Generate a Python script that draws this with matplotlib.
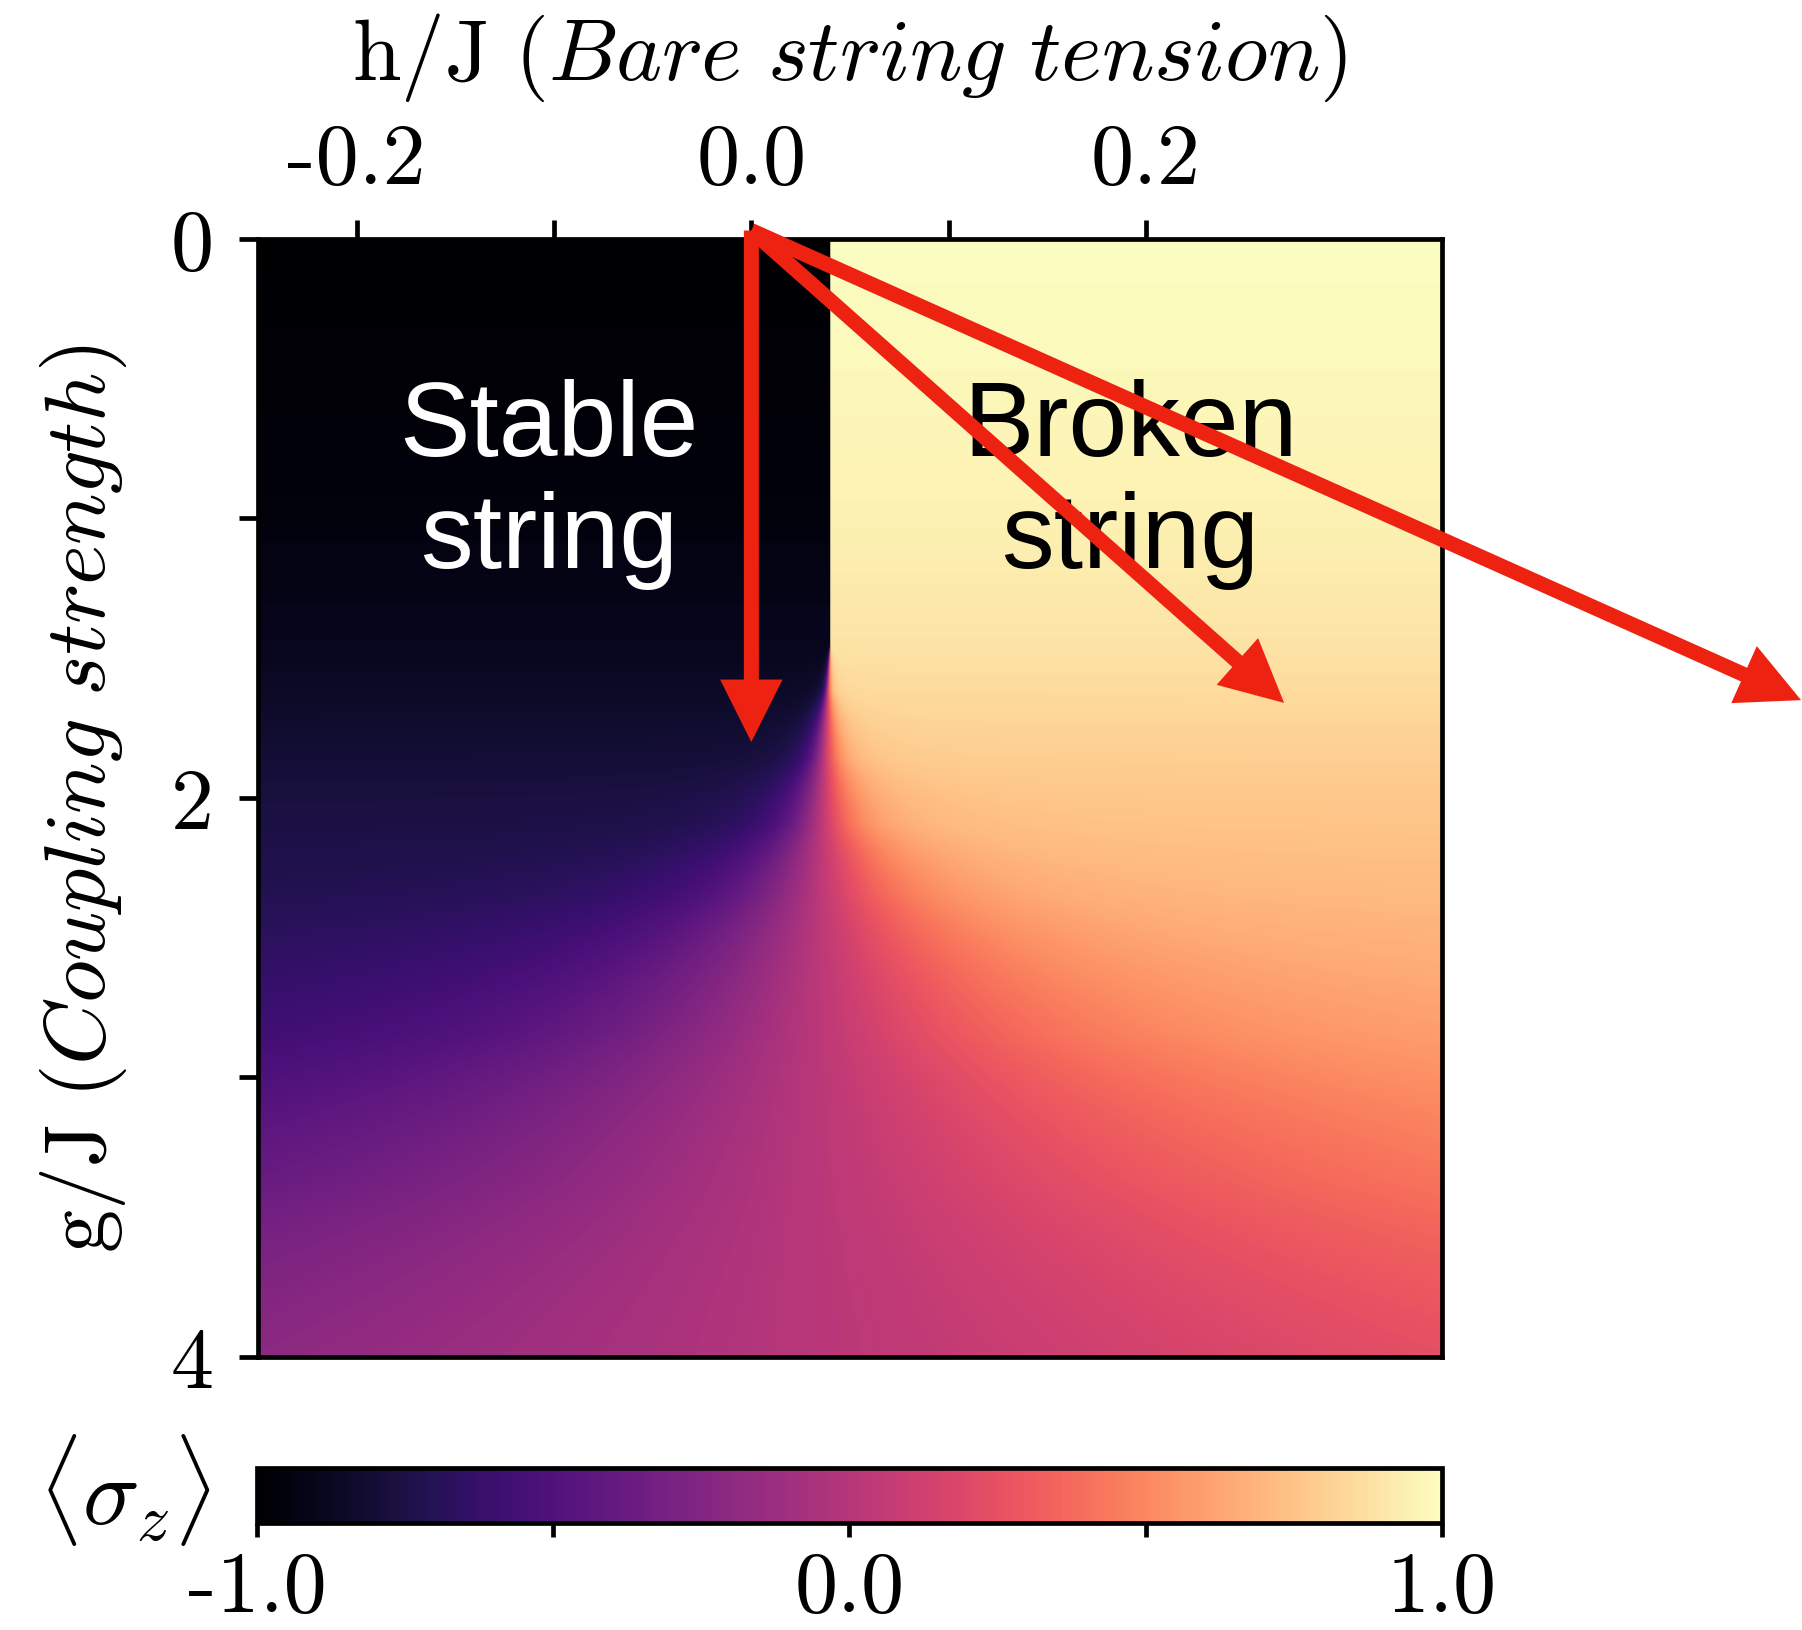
import matplotlib
matplotlib.use('Agg')
import matplotlib.pyplot as plt
import numpy as np

plt.rcParams['font.family'] = 'serif'
plt.rcParams['font.serif'] = ['cmr10']
plt.rcParams['mathtext.fontset'] = 'cm'
plt.rcParams['axes.unicode_minus'] = False

# phase diagram range
h_min, h_max = -0.25, 0.35
g_min, g_max = 0.0, 4.0

# <sigma_z> read along the edges of the map
h_step = 0.04          # position of the jump at weak coupling
g_tip = 1.45           # coupling where the jump starts to smear out
g_env = [0.0, 1.0, 1.5, 2.0, 3.0, 4.0]
amp_env = [1.0, 0.95, 0.88, 0.77, 0.64, 0.52]
# opening of the crossover fan below the tip
dg_fan = [0.0, 0.17, 0.41, 0.65, 0.9, 1.4, 1.92, 2.55]
w_fan = [0.0, 0.002, 0.01, 0.025, 0.06, 0.16, 0.33, 0.64]
shift_fan = [0.0, -0.022]

# arrow end points (h/J, g/J), all start at the origin
arrow_h = [0.0, 0.27, 0.532]
arrow_g = [1.80, 1.66, 1.65]

x_ticks = [-0.2, -0.1, 0.0, 0.1, 0.2]
x_ticklabels = ['-0.2', '', '0.0', '', '0.2']
y_ticks = [0, 1, 2, 3, 4]
y_ticklabels = ['0', '', '2', '', '4']
cb_ticks = [-1.0, -0.5, 0.0, 0.5, 1.0]
cb_ticklabels = ['-1.0', '', '0.0', '', '1.0']

h_grid = np.linspace(h_min, h_max, 1200)
g_grid = np.linspace(g_min, g_max, 900)
H, G = np.meshgrid(h_grid, g_grid)
amp = np.interp(G, g_env, amp_env)
dg = np.clip(G - g_tip, 0, None)
width = np.interp(dg, dg_fan, w_fan)
h0 = h_step + np.interp(dg, [0.0, dg_fan[-1]], shift_fan)
dh = H - h0
sz = amp * dh / np.sqrt(dh**2 + width**2 + 1e-12)

fig = plt.figure(figsize=(18.02, 16.31), dpi=100)
ax = fig.add_axes([0.1432, 0.1674, 0.657, 0.6855])
cax = fig.add_axes([0.1426, 0.0656, 0.6576, 0.0337])

im = ax.imshow(sz, extent=(h_min, h_max, g_max, g_min), aspect='auto',
               cmap='magma', vmin=-1, vmax=1, interpolation='bilinear')

lw = 3.4
for s in ax.spines.values():
    s.set_linewidth(lw)
ax.xaxis.tick_top()
ax.xaxis.set_label_position('top')
ax.set_xticks(x_ticks)
ax.set_xticklabels(x_ticklabels)
ax.set_yticks(y_ticks)
ax.set_yticklabels(y_ticklabels)
ax.tick_params(axis='x', which='both', top=True, bottom=False, direction='out',
               length=14, width=lw, labelsize=62, pad=14)
ax.tick_params(axis='y', which='both', left=True, right=False, direction='out',
               length=14, width=lw, labelsize=62, pad=18)
ax.set_xlim(h_min, h_max)
ax.set_ylim(g_max, g_min)
ax.set_xlabel(r'$\mathrm{h/J}\ (\mathit{Bare\ string\ tension})$', fontsize=63, labelpad=31)
ax.set_ylabel(r'$\mathrm{g/J}\ (\mathit{Coupling\ strength})$', fontsize=62, labelpad=30)

ax.text(-0.1025, 0.875, 'Stable\nstring', color='white', fontsize=76,
        family='Liberation Sans', ha='center', va='center', linespacing=1.18, zorder=4)
ax.text(0.192, 0.875, 'Broken\nstring', color='black', fontsize=76,
        family='Liberation Sans', ha='center', va='center', linespacing=1.18, zorder=4)

for h_end, g_end in zip(arrow_h, arrow_g):
    ax.annotate('', xy=(h_end, g_end), xytext=(0.0, -0.03), xycoords='data',
                textcoords='data', annotation_clip=False, zorder=5,
                arrowprops=dict(arrowstyle='simple,head_length=4.5,head_width=4.5,tail_width=1.08',
                                mutation_scale=10, color='#ee2211', lw=0,
                                shrinkA=0, shrinkB=0, clip_on=False))

cb = fig.colorbar(im, cax=cax, orientation='horizontal')
cb.set_ticks(cb_ticks)
cb.set_ticklabels(cb_ticklabels)
cb.outline.set_linewidth(lw)
cax.tick_params(direction='out', length=10, width=lw, labelsize=62, pad=10)
cax.text(-0.112, 0.62, r'$\langle\sigma_z\rangle$', transform=cax.transAxes,
         fontsize=68, ha='center', va='center')

fig.savefig('out.png', dpi=100)
